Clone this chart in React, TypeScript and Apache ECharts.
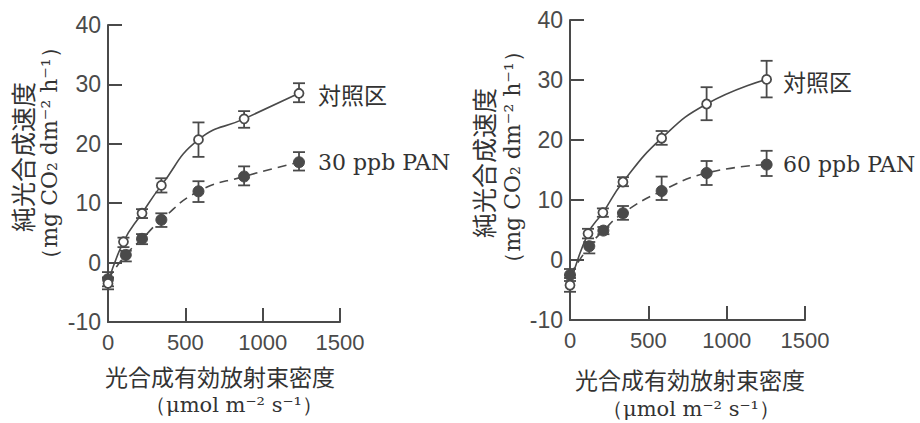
import React, { useEffect, useRef } from "react";
import * as echarts from "echarts";

// ---- data ----
const xTicks = [0, 500, 1000, 1500];
const yTicks = [-10, 0, 10, 20, 30, 40];

// left panel (30 ppb PAN)
const leftCtrlX = [0, 100, 220, 345, 585, 880, 1235];
const leftCtrlY = [-3.5, 3.5, 8.3, 13.0, 20.7, 24.2, 28.5];
const leftCtrlLow = [-4.5, 2.6, 7.5, 11.8, 17.8, 22.7, 27.0];
const leftCtrlHigh = [-2.5, 4.2, 9.0, 14.2, 23.6, 25.5, 30.2];

const leftPanX = [0, 115, 220, 345, 585, 880, 1235];
const leftPanY = [-2.8, 1.3, 4.0, 7.2, 12.0, 14.5, 16.9];
const leftPanLow = [-4.0, 0.2, 3.1, 6.0, 10.2, 13.0, 15.5];
const leftPanHigh = [-1.6, 2.0, 4.8, 8.3, 13.7, 16.2, 18.6];

// right panel (60 ppb PAN)
const rightCtrlX = [0, 115, 210, 338, 585, 872, 1255];
const rightCtrlY = [-4.2, 4.4, 7.9, 13.0, 20.3, 26.0, 30.1];
const rightCtrlLow = [-5.3, 3.6, 7.2, 12.3, 19.2, 23.3, 27.1];
const rightCtrlHigh = [-3.0, 5.2, 8.6, 13.8, 21.5, 28.8, 33.2];

const rightPanX = [0, 123, 213, 338, 585, 872, 1255];
const rightPanY = [-2.5, 2.3, 4.9, 7.8, 11.5, 14.5, 15.9];
const rightPanLow = [-3.5, 1.1, 4.3, 6.7, 10.0, 12.5, 14.0];
const rightPanHigh = [-1.5, 3.0, 5.5, 9.0, 13.9, 16.5, 18.2];

const ctrlLabel = "対照区";
const leftPanLabel = "30 ppb PAN";
const rightPanLabel = "60 ppb PAN";
const yName1 = "純光合成速度";
const yName2 = "（mg CO₂ dm⁻² h⁻¹）";
const xName1 = "光合成有効放射束密度";
const xName2 = "（μmol m⁻² s⁻¹）";

const INK = "#4a4a4a";
const SANS = "'Liberation Sans', Arial, sans-serif";
const SERIF = "'DejaVu Serif', 'Liberation Serif', serif";
const CJK = "'Noto Sans CJK JP', sans-serif";

function pts(xs: number[], ys: number[]) {
  return xs.map((x, i) => [x, ys[i]]);
}
function errs(xs: number[], lo: number[], hi: number[]) {
  return xs.map((x, i) => [x, lo[i], hi[i]]);
}

function errSeries(idx: number, data: number[][]) {
  return {
    type: "custom",
    xAxisIndex: idx,
    yAxisIndex: idx,
    z: 2,
    data,
    renderItem: (params: any, api: any) => {
      const x = api.value(0);
      const lo = api.coord([x, api.value(1)]);
      const hi = api.coord([x, api.value(2)]);
      const w = 6;
      const st = { stroke: INK, lineWidth: 1.8 };
      return {
        type: "group",
        children: [
          { type: "line", shape: { x1: lo[0], y1: lo[1], x2: hi[0], y2: hi[1] }, style: st },
          { type: "line", shape: { x1: lo[0] - w, y1: lo[1], x2: lo[0] + w, y2: lo[1] }, style: st },
          { type: "line", shape: { x1: hi[0] - w, y1: hi[1], x2: hi[0] + w, y2: hi[1] }, style: st },
        ],
      };
    },
  };
}

function lineSeries(idx: number, data: number[][], open: boolean) {
  return {
    type: "line",
    xAxisIndex: idx,
    yAxisIndex: idx,
    z: 3,
    smooth: 0.5,
    data,
    symbol: "circle",
    symbolSize: open ? 9 : 11,
    showSymbol: true,
    lineStyle: { color: INK, width: 1.6, type: open ? "solid" : [9, 6] },
    itemStyle: open
      ? { color: "#fff", borderColor: INK, borderWidth: 1.8 }
      : { color: INK, borderColor: INK, borderWidth: 1 },
  };
}

function xAxis(idx: number) {
  return {
    type: "value",
    gridIndex: idx,
    min: 0,
    max: 1500,
    interval: 500,
    axisLine: { show: true, onZero: false, lineStyle: { color: INK, width: 2 } },
    axisTick: { show: true, inside: true, length: 14, lineStyle: { color: INK, width: 2 } },
    axisLabel: {
      color: INK,
      fontSize: 22,
      fontFamily: SANS,
      margin: 9,
      formatter: (v: number) => (xTicks.includes(v) ? String(v) : ""),
    },
    splitLine: { show: false },
  };
}

function yAxis(idx: number) {
  return {
    type: "value",
    gridIndex: idx,
    min: -10,
    max: 40,
    interval: 10,
    axisLine: { show: true, onZero: false, lineStyle: { color: INK, width: 2 } },
    axisTick: { show: true, inside: true, length: 14, lineStyle: { color: INK, width: 2 } },
    axisLabel: {
      color: INK,
      fontSize: 23,
      fontFamily: SANS,
      margin: 7,
      formatter: (v: number) => (yTicks.includes(v) ? String(v) : ""),
    },
    splitLine: { show: false },
  };
}

function txt(text: string, x: number, y: number, font: string, size: number, rot = 0, align = "left") {
  return {
    type: "text",
    x,
    y,
    rotation: rot,
    style: {
      text,
      fill: "#333",
      fontSize: size,
      fontFamily: font,
      align,
      verticalAlign: "middle",
    },
  };
}

export default function App() {
  const ref = useRef<HTMLDivElement>(null);
  useEffect(() => {
    if (!ref.current) return;
    const chart = echarts.init(ref.current, undefined, { renderer: "svg" });
    chart.setOption({
      animation: false,
      backgroundColor: "#fff",
      grid: [
        { left: 108, top: 25, width: 232, height: 297 },
        { left: 570, top: 20, width: 235, height: 300 },
      ],
      xAxis: [xAxis(0), xAxis(1)],
      yAxis: [yAxis(0), yAxis(1)],
      series: [
        errSeries(0, errs(leftCtrlX, leftCtrlLow, leftCtrlHigh)),
        errSeries(0, errs(leftPanX, leftPanLow, leftPanHigh)),
        lineSeries(0, pts(leftPanX, leftPanY), false),
        lineSeries(0, pts(leftCtrlX, leftCtrlY), true),
        errSeries(1, errs(rightCtrlX, rightCtrlLow, rightCtrlHigh)),
        errSeries(1, errs(rightPanX, rightPanLow, rightPanHigh)),
        lineSeries(1, pts(rightPanX, rightPanY), false),
        lineSeries(1, pts(rightCtrlX, rightCtrlY), true),
      ],
      graphic: [
        txt(yName1, 22, 157, CJK, 25, Math.PI / 2, "center"),
        txt(yName2, 49, 153, SERIF, 22, Math.PI / 2, "center"),
        txt(yName1, 483, 163, CJK, 25, Math.PI / 2, "center"),
        txt(yName2, 512, 157, SERIF, 22, Math.PI / 2, "center"),
        txt(xName1, 220, 376, CJK, 23, 0, "center"),
        txt(xName2, 234, 405, SERIF, 21, 0, "center"),
        txt(xName1, 690, 379, CJK, 23, 0, "center"),
        txt(xName2, 691, 409, SERIF, 21, 0, "center"),
        txt(ctrlLabel, 318, 94, CJK, 23),
        txt(leftPanLabel, 318, 162, SERIF, 22),
        txt(ctrlLabel, 783, 81, CJK, 23),
        txt(rightPanLabel, 783, 164, SERIF, 22),
      ],
    });
    return () => chart.dispose();
  }, []);
  return (
    <div
      ref={ref}
      style={{ position: "fixed", left: 0, top: 0, width: 920, height: 423 }}
    />
  );
}
